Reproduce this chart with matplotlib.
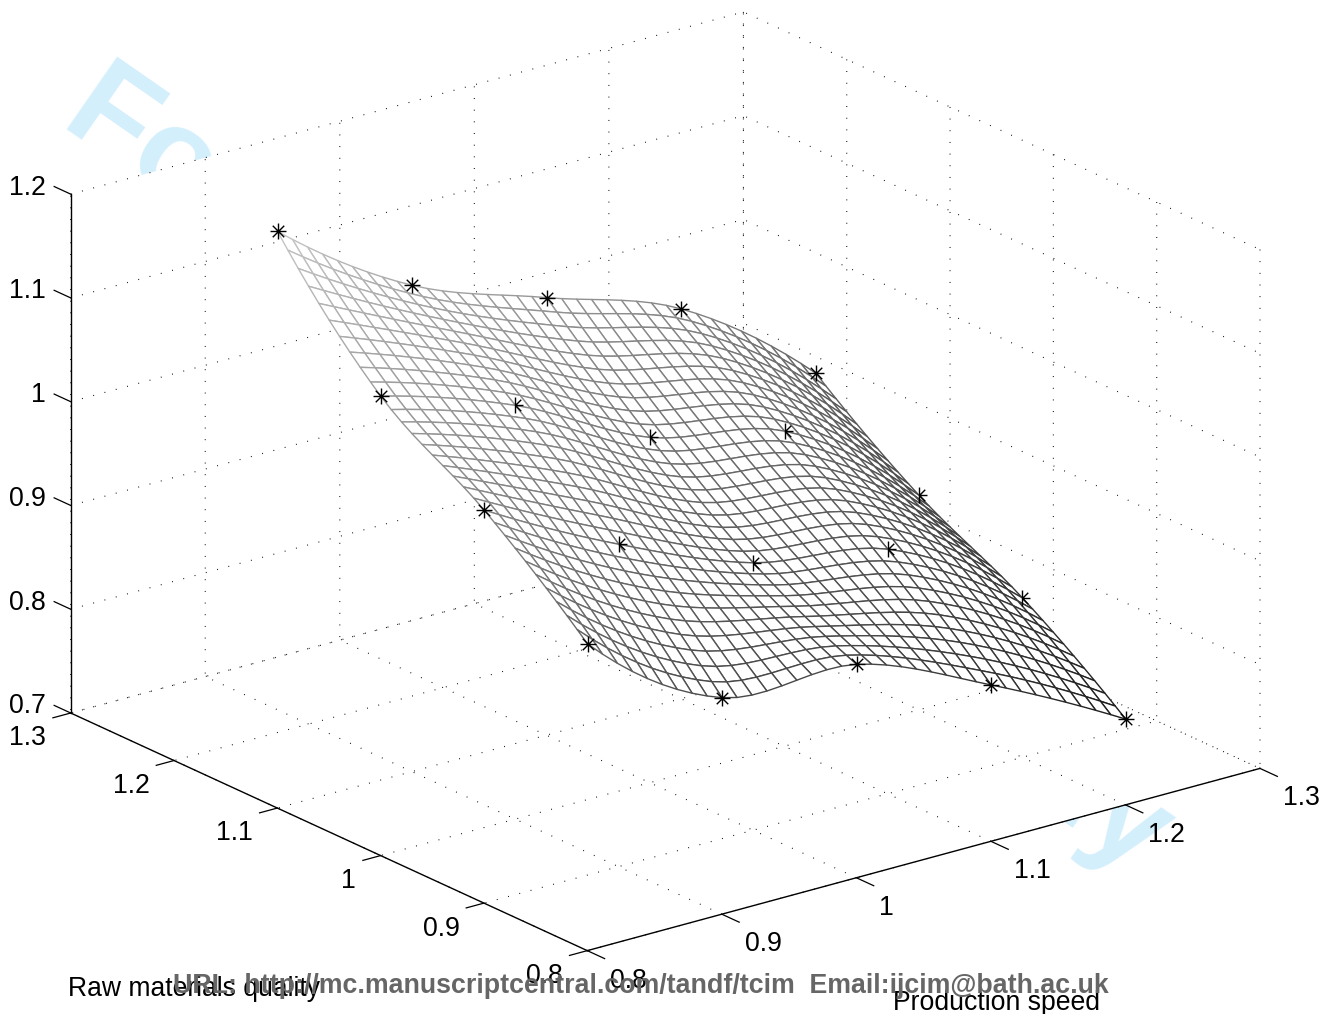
import numpy as np
import matplotlib
matplotlib.use("Agg")
import matplotlib.pyplot as plt
from matplotlib.path import Path
from matplotlib.transforms import ScaledTranslation
from mpl_toolkits.mplot3d import proj3d

plt.rcParams['font.family'] = ['Liberation Sans', 'DejaVu Sans']

# Values (the starred points of the surface)
production_speed = [0.9, 1.0, 1.1, 1.2, 1.3]
raw_quality = [1.23, 1.13, 1.03, 0.93]
response = [
    [1.161, 1.074, 1.027, 0.981, 0.884],
    [1.048, 1.004, 0.938, 0.909, 0.812],
    [0.984, 0.916, 0.863, 0.841, 0.759],
    [0.901, 0.814, 0.811, 0.756, 0.688],
]
x_ticks = [0.8, 0.9, 1.0, 1.1, 1.2, 1.3]
y_ticks = [0.8, 0.9, 1.0, 1.1, 1.2, 1.3]
z_ticks = [0.7, 0.8, 0.9, 1.0, 1.1, 1.2]
x_labels = ['0.8', '0.9', '1', '1.1', '1.2', '1.3']
y_labels = ['0.8', '0.9', '1', '1.1', '1.2', '1.3']
z_labels = ['0.7', '0.8', '0.9', '1', '1.1', '1.2']
x_name = 'Production speed'
y_name = 'Raw materials quality'
footer = 'URL: http://mc.manuscriptcentral.com/tandf/tcim  Email:ijcim@bath.ac.uk'
watermark = 'For Peer Review Only'

W, H = 1323, 1014


def smooth_curve(xk, yk, xq):
    """Cubic Hermite curve through the read points (only used to draw the fine mesh)."""
    xk = np.asarray(xk, float)
    order = np.argsort(xk)
    xk = xk[order]
    yk = np.asarray(yk, float)[order]
    m = np.gradient(yk, xk, edge_order=2)
    j = np.clip(np.searchsorted(xk, xq) - 1, 0, len(xk) - 2)
    h = xk[j + 1] - xk[j]
    t = (xq - xk[j]) / h
    return (2*t**3 - 3*t**2 + 1) * yk[j] + (t**3 - 2*t**2 + t) * h * m[j] + \
        (-2*t**3 + 3*t**2) * yk[j + 1] + (t**3 - t**2) * h * m[j + 1]


Zs = np.array(response)
xf = np.linspace(min(production_speed), max(production_speed), 37)
yf = np.linspace(max(raw_quality), min(raw_quality), 31)
tmp = np.array([smooth_curve(production_speed, row, xf) for row in Zs])
Zf = np.array([smooth_curve(raw_quality, tmp[:, k], yf) for k in range(len(xf))]).T
Xf, Yf = np.meshgrid(xf, yf)

fig = plt.figure(figsize=(W / 100, H / 100), dpi=100, facecolor='white')
ax = fig.add_axes([0, 0, 1, 1], projection='3d', proj_type='ortho', computed_zorder=False)
ax.patch.set_visible(False)
ax.view_init(elev=20.67, azim=-127.5, roll=0)
ax.set_box_aspect((848, 848.6, 554.6))
ax.set_xlim(0.8, 1.3)
ax.set_ylim(0.8, 1.3)
ax.set_zlim(0.7, 1.2)

# place the axes so the box sits where it does in the reference
M = ax.get_proj()
def prj(x, y, z):
    a, b, _ = proj3d.proj_transform(x, y, z, M)
    return float(a), float(b)
pl = prj(0.8, 1.3, 0.7)
pr = prj(1.3, 0.8, 0.7)
scale = (1260 - 70.7) / (pr[0] - pl[0])
vl = ax.viewLim
side = scale * vl.width
left = 70.7 - scale * (pl[0] - vl.x0)
bottom = (H - 713) - scale * (pl[1] - vl.y0)
ax.set_position([left / W, bottom / H, side / W, side / H])

ax.set_xticks(x_ticks, x_labels)
ax.set_yticks(y_ticks, y_labels)
ax.set_zticks(z_ticks, z_labels)
ax.tick_params(axis='both', labelsize=19.2, colors='black', pad=6)
ax.tick_params(axis='z', labelsize=19.2, colors='black', pad=6)

tick_in = {'x': 0.42, 'y': 0.33, 'z': 0.0}
tick_out = {'x': 0.0, 'y': 0.0, 'z': 0.40}
for name, axis in (('x', ax.xaxis), ('y', ax.yaxis), ('z', ax.zaxis)):
    axis.pane.set_facecolor('white')
    axis.pane.set_edgecolor('none')
    axis.pane.set_alpha(1)
    axis._axinfo['grid'].update(color='black', linewidth=0.8, linestyle=(0, (0.8, 9.7)))
    axis._axinfo['tick'].update(inward_factor=tick_in[name], outward_factor=tick_out[name],
                                linewidth={True: 0.9, False: 0.9})
    axis._axinfo['axisline']['color'] = 'black'
    axis.line.set_linewidth(1.0)
ax.grid(True)
ax.zaxis.set_ticks_position('upper')
# z ticks point along the y direction in the reference
ax.zaxis._get_tickdir = lambda position: 1


def nudge(axis, ha, dx, dy):
    """Shift tick labels by (dx, dy) pixels and set their horizontal alignment."""
    off = ScaledTranslation(dx / 100, dy / 100, fig.dpi_scale_trans)
    for tick in axis.get_major_ticks():
        lab = tick.label1
        lab.set_ha(ha)
        lab.set_va('center')
        lab.set_transform(ax.transData + off)
        lab.set_transform = lambda t: None


nudge(ax.xaxis, 'left', 8, -8)
nudge(ax.yaxis, 'right', -5, -5)
nudge(ax.zaxis, 'right', 10, 5)

# mesh: white faces, grey edges darkening with decreasing height
surf = ax.plot_surface(Xf, Yf, Zf, rstride=1, cstride=1, color='white', shade=False,
                       antialiased=True, linewidth=1.0, zorder=2)
zm = 0.25 * (Zf[:-1, :-1] + Zf[1:, :-1] + Zf[:-1, 1:] + Zf[1:, 1:]).ravel()
g = np.clip(0.1 + (zm - 0.688) * 1.45, 0, 1)
surf.set_edgecolor(np.column_stack([g, g, g, np.ones_like(g)]))
surf.set_facecolor('white')

# asterisk markers; those sunk into the surface show only their right half
d = 0.72
rays = [(-1, 0, 1, 0), (0, -1, 0, 1), (-d, -d, d, d), (-d, d, d, -d)]
def seg_path(segs):
    v, c = [], []
    for a, b, e, f in segs:
        v += [(a, b), (e, f)]
        c += [Path.MOVETO, Path.LINETO]
    return Path(v, c)
full = seg_path(rays)
half = seg_path([(0, -1, 0, 1), (0, 0, 1, 0), (0, 0, d, d), (0, 0, d, -d)])
for i, yv in enumerate(raw_quality):
    for j, xv in enumerate(production_speed):
        sunk = i in (1, 2) and j >= 1
        ax.plot([xv], [yv], [response[i][j]], linestyle='none', marker=half if sunk else full,
                markersize=11.5, markeredgewidth=1.0, markeredgecolor='black',
                markerfacecolor='none', zorder=5)

# text outside the axes
def fx(p): return p / W
def fy(p): return 1 - p / H
fig.text(fx(59), fy(124), watermark, rotation=-34.8, rotation_mode='anchor', ha='left', va='baseline',
         fontsize=92, fontweight='bold', color='#d4effc', zorder=-1)
fig.text(fx(68), fy(996), y_name, fontsize=19.1, color='black', ha='left', va='baseline', zorder=5)
fig.text(fx(893), fy(1010), x_name, fontsize=19.2, color='black', ha='left', va='baseline', zorder=5)
fig.text(fx(173), fy(993), footer, fontsize=19.3, fontweight='bold', color='#666666',
         ha='left', va='baseline', zorder=6)

fig.savefig('out.png', dpi=100)
